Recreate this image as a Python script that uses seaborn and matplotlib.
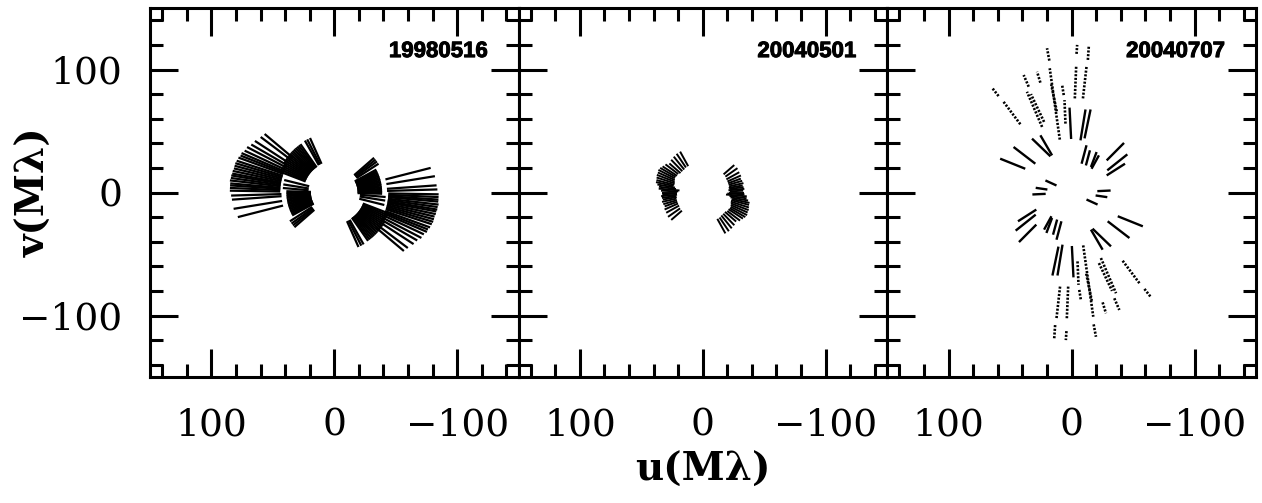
import numpy as np
import pandas as pd
import matplotlib
matplotlib.use("Agg")
import matplotlib.pyplot as plt
import matplotlib.patheffects as pe
import seaborn as sns
from matplotlib.ticker import MultipleLocator

# ---------------------------------------------------------------------------
# uv tracks (Mλ).  Each track is drawn together with its point-symmetric twin.
# ---------------------------------------------------------------------------
dates = ["19980516", "20040501", "20040707"]

# 1998-05-16 : position angle (deg, from +u towards +v), inner / outer radius
p1_angle = [40, 37, 33, 30, 27.5, 25, 23, 21.5, 20, 18, 16.5, 15, 13.5, 12, 10.5,
            9.4, 8, 6.6, 5, 3.9, 2.5, 1, -1.7, -4, -9.2, -14.3,
            66, 63, 60.5, 55, 53, 51, 49, 47, 45, 43, 41, 39, 37, 35, 33, 31, 29,
            27, 25, 23, 21, 14, 9, 5, 1.5, -0.5, -2.5, -4.5, -6.5, -8.5, -10.5,
            -12.5, -14.5, -16.5, -18.5, -20.5, -22.5, -24.5, -26.5, -28.5,
            -33, -36, -38.5, -41]
p1_r_in = [44, 44, 44, 44, 44, 44, 44, 44, 44, 44, 44, 44, 44, 44, 44,
           44, 44, 44, 44, 44, 44, 44, 43, 43, 43, 43,
           25.5, 25.5, 25.5, 25, 25, 25, 25, 25, 25, 25, 25, 25, 25, 25, 25, 25, 25,
           25, 25, 25, 25, 21, 21, 21, 19, 19, 19, 19, 19, 19, 19,
           19, 19, 19, 19, 19, 19, 19, 19, 19,
           21.5, 21.5, 21.5, 21.5]
p1_r_out = [74, 75, 77, 78, 80, 80.5, 82, 82, 83, 83.5, 84, 84, 84, 84.5, 84.5,
            85, 85, 85.5, 85, 85, 85, 85, 84, 83.5, 83, 81,
            48.5, 48.5, 48.5, 48, 48, 48, 48, 48, 48, 48, 48, 48, 48, 48, 48, 48, 47,
            47, 47, 47, 47, 42, 42, 42, 39, 39, 39, 39, 39, 39, 39,
            39, 39, 39, 39, 39, 39, 39, 39, 39,
            43, 43, 43, 43]

# 2004-05-01
p2_angle = [61, 56, 51, 46, 41, 37, 33, 30, 27, 24, 21, 18, 15, 12.5, 10, 7.5,
            5, 2.5, 0, -2.5, -5, -7.5, -10, -13, -16.5, -20, -24, -29, -35, -41]
p2_r_in = [24.5, 24.5, 24, 24, 24, 25, 25, 25.5, 25.5, 25, 24.5, 24, 24, 24.5,
           23, 22, 19, 20, 21, 22, 21, 22, 21.5, 22, 22, 22, 22, 22, 22.5, 22.5]
p2_r_out = [38, 38, 37.5, 37, 36, 38, 39, 40, 40.5, 40, 40, 39.5, 39, 39, 37.5,
            36, 36, 34, 33.5, 33, 34, 33.5, 33, 34, 33.5, 33, 34, 34, 34.5, 34]

# 2004-07-07 : track end points (u1, v1) -> (u2, v2)
p3_u1 = [18.0, -2.7, -4.1, -9.3, -13.3, 59.3, 41.6, 34.8, 25.3, 23.9, 22.3, 9.5,
         12.0, 6.3, 4.9, 0.3, -7.3, -10.6, 17.1, 15.8, 29.4, 37.6, -8.2, -11.7,
         -15.8, -16.3, -28.6, -29.1, -28.6, 12.2, 19.6, 21.0]
p3_v1 = [107.2, 76.5, 112.7, 76.5, 107.8, 78.4, 55.5, 86.0, 89.3, 53.3, 57.4, 43.0,
         66.0, 79.2, 56.0, 43.5, 42.4, 44.0, 29.4, 30.2, 23.4, 19.3, 23.4, 22.0,
         20.7, 19.3, 26.1, 18.0, 13.9, 5.7, 2.4, -1.1]
p3_u2 = [19.9, -3.8, -4.6, -12.2, -14.1, 64.8, 55.2, 38.9, 28.0, 36.2, 33.0, 17.7,
         16.5, 7.6, 5.7, 1.6, -11.4, -15.5, 32.1, 25.3, 47.1, 58.0, -12.2, -15.0,
         -20.4, -22.3, -42.7, -45.4, -43.5, 21.2, 29.1, 31.8]
p3_v2 = [117.3, 102.3, 120.0, 102.3, 119.2, 85.4, 73.7, 95.5, 98.2, 81.9, 80.0,
         101.0, 88.0, 87.3, 75.1, 69.0, 67.5, 67.5, 43.8, 46.5, 37.0, 27.5, 38.4,
         34.3, 32.9, 30.2, 40.3, 31.0, 23.4, 9.8, 3.8, -1.6]


def polar_tracks(angle, r_in, r_out):
    a = np.radians(np.asarray(angle, float))
    r_in = np.asarray(r_in, float)
    r_out = np.asarray(r_out, float)
    return r_in * np.cos(a), r_in * np.sin(a), r_out * np.cos(a), r_out * np.sin(a)


def tracks_frame(u1, v1, u2, v2):
    u1, v1, u2, v2 = (np.asarray(x, float) for x in (u1, v1, u2, v2))
    rows = []
    n = len(u1)
    for sign in (1, -1):
        for k in range(n):
            seg = k + (0 if sign == 1 else n)
            rows.append((seg, sign * u1[k], sign * v1[k]))
            rows.append((seg, sign * u2[k], sign * v2[k]))
    return pd.DataFrame(rows, columns=["track", "u", "v"])


sns.set_style("ticks")
plt.rcParams.update({
    "font.family": ["DejaVu Serif"],
    "axes.linewidth": 2.2,
    "text.color": "black",
    "axes.labelcolor": "black",
    "axes.edgecolor": "black",
    "xtick.color": "black",
    "ytick.color": "black",
})

W, H = 1262, 503
fig = plt.figure(figsize=(W / 100, H / 100), dpi=100)
panel_px = [(150, 518.5), (518.5, 887), (887, 1256)]
top_px, bottom_px = 8, 377

frames = [
    tracks_frame(*polar_tracks(p1_angle, p1_r_in, p1_r_out)),
    tracks_frame(*polar_tracks(p2_angle, p2_r_in, p2_r_out)),
]
# long, outer tracks of the last epoch show individual spectral channels
p3_rmean = 0.5 * (np.hypot(p3_u1, p3_v1) + np.hypot(p3_u2, p3_v2))
far = p3_rmean > 60
sel = lambda arr, m: [x for x, keep in zip(arr, m) if keep]
p3_far = tracks_frame(sel(p3_u1, far), sel(p3_v1, far), sel(p3_u2, far), sel(p3_v2, far))
p3_near = tracks_frame(sel(p3_u1, ~far), sel(p3_v1, ~far), sel(p3_u2, ~far), sel(p3_v2, ~far))

for i, (x0, x1) in enumerate(panel_px):
    ax = fig.add_axes([x0 / W, 1 - bottom_px / H, (x1 - x0) / W, (bottom_px - top_px) / H])
    common = dict(x="u", y="v", units="track", estimator=None, sort=False,
                  color="black", legend=False, ax=ax)
    if i == 0:
        sns.lineplot(data=frames[i], lw=1.6, solid_capstyle="butt", **common)
    elif i == 1:
        sns.lineplot(data=frames[i], lw=1.4, solid_capstyle="butt", **common)
    else:
        sns.lineplot(data=p3_near, lw=1.7, solid_capstyle="butt", **common)
        sns.lineplot(data=p3_far, lw=1.9, linestyle=(0, (0.8, 0.6)),
                     dash_capstyle="butt", **common)

    ax.set_xlim(150, -150)
    ax.set_ylim(-150, 150)
    ax.set_xlabel("")
    ax.set_ylabel("")
    for sp in ax.spines.values():
        sp.set_linewidth(2.2)
        sp.set_color("black")
    ax.xaxis.set_major_locator(MultipleLocator(100))
    ax.xaxis.set_minor_locator(MultipleLocator(20))
    ax.yaxis.set_major_locator(MultipleLocator(100))
    ax.yaxis.set_minor_locator(MultipleLocator(20))
    ax.tick_params(which="both", direction="in", top=True, right=True,
                   bottom=True, left=True, width=2.2, color="black",
                   labelcolor="black")
    ax.tick_params(which="major", length=20, labelsize=27)
    ax.tick_params(which="minor", length=9.5)
    ax.tick_params(axis="x", which="major", pad=22)
    ax.tick_params(axis="y", which="major", pad=20, labelleft=(i == 0))
    ax.text(0.917, 0.867, dates[i], transform=ax.transAxes, ha="right",
            va="baseline", fontsize=16, fontweight="bold", family="Liberation Sans",
            color="black",
            path_effects=[pe.withStroke(linewidth=0.7, foreground="black")])

fig.text(35 / W, 1 - 192.5 / H, "v(Mλ)", rotation=90, ha="center", va="center",
         fontsize=28, fontweight="bold", color="black")
fig.text(702.5 / W, 1 - 470 / H, "u(Mλ)", ha="center", va="center",
         fontsize=28, fontweight="bold", color="black")

fig.savefig("out.png", dpi=100)
